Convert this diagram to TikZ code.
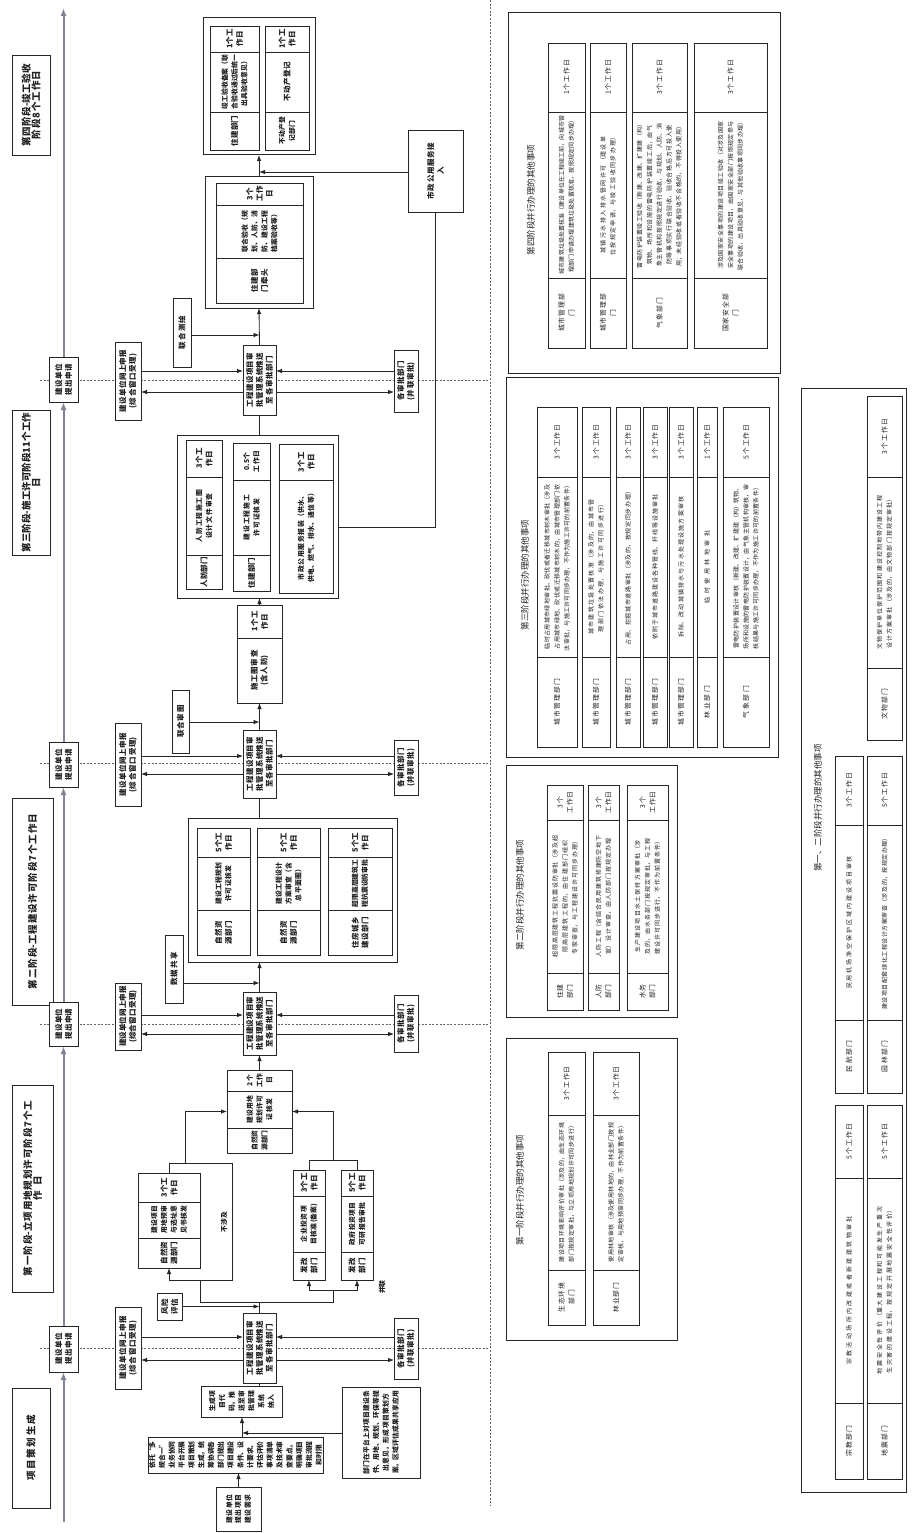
\documentclass[tikz,border=0pt]{standalone}
\usepackage{fontspec}
\setmainfont{Noto Sans CJK SC}
\XeTeXlinebreaklocale "zh"
\XeTeXlinebreakskip=0pt plus 1pt
\usetikzlibrary{arrows.meta}
\definecolor{axc}{RGB}{128,134,150}
\newcommand{\fa}{\fontsize{7.5}{9.8}\selectfont\bfseries}
\newcommand{\fcs}{\fontsize{6.8}{8.8}\selectfont\bfseries}
\newcommand{\fcc}{\fontsize{6}{7.5}\selectfont\mdseries}
\newcommand{\fdd}{\fontsize{6.8}{8.6}\selectfont\mdseries}
\newcommand{\flab}{\fontsize{9.5}{12.5}\selectfont\bfseries}
\newcommand{\ftit}{\fontsize{8.5}{10}\selectfont\mdseries}
\tikzset{
 bx/.style={draw=black!85,line width=0.8pt,fill=white,inner sep=0pt,outer sep=0pt},
 frame/.style={line width=1pt},
 tx/.style={rotate=90,inner sep=0pt,align=center,font=\fa,text=black!88},
 ln/.style={draw=black!85,line width=0.85pt},
 arr/.style={ln,-{Latex[length=6pt,width=4.5pt]}},
 bnd/.style={draw=black!60,line width=0.8pt,dash pattern=on 2pt off 1.6pt},
 axis/.style={draw=axc,line width=2pt,-{Latex[length=8pt,width=6pt]}},
}
\newcommand{\BX}[7][]{%
 \pgfmathsetmacro\bxw{#5-#3}%
 \pgfmathsetmacro\bxh{#6-#4}%
 \pgfmathsetmacro\bxx{(#3+#5)/2}%
 \pgfmathsetmacro\bxy{(#4+#6)/2}%
 \pgfmathsetmacro\bxt{max(#6-#4-4,4)}%
 \node[bx,minimum width=\bxw pt,minimum height=\bxh pt,#1] (#2) at (\bxx,\bxy) {};%
 \node[tx,text width=\bxt pt] (#2-t) at (#2.center) {#7};%
}
\begin{document}
\begin{tikzpicture}[x=1pt,y=-1pt]
\useasboundingbox (0,0) rectangle (916,1533);
\fill[white] (0,0) rectangle (916,1533);
% separators and phase boundaries
\draw[bnd] (490,0) -- (490,1505);
\foreach \yy in {1348,1024,763,380}{\draw[bnd] (40,\yy) -- (490,\yy);}

% ---------- stage labels ----------
\BX{S0}{12}{1388}{50}{1508}{\flab 项目策划生成}
\BX{S1}{12}{1085}{53}{1292}{\flab 第一阶段-立项用地规划许可阶段7个工\\作日}
\BX{S2}{12}{798}{53}{1005}{\flab 第二阶段-工程建设许可阶段7个工作日}
\BX{S3}{12}{410}{50}{555}{\flab 第三阶段-施工许可阶段11个工作\\日}
\BX{S4}{12}{55}{50}{155}{\flab 第四阶段-竣工验收\\阶段8个工作日}

% ---------- main axis ----------
\BX{A1}{49}{1326}{78}{1372}{建设单位\\提出申请}
\BX{A2}{49}{1002}{78}{1046}{建设单位\\提出申请}
\BX{A3}{49}{742}{78}{787}{建设单位\\提出申请}
\BX{A4}{49}{357}{78}{402}{建设单位\\提出申请}
\coordinate (ax0) at (63.5,1522);
\coordinate (ax1) at (63.5,8);
\draw[axis] (ax0) -- (A1.south);
\draw[axis] (A1.north) -- (A2.south);
\draw[axis] (A2.north) -- (A3.south);
\draw[axis] (A3.north) -- (A4.south);
\draw[axis] (A4.north) -- (ax1);

% ---------- window / system / department boxes ----------
\BX{L1}{115}{1307}{141}{1389}{建设单位网上申报\\(综合窗口受理)}
\BX{C1}{243}{1313}{276}{1383}{工程建设项目审\\批管理系统推送\\至各审批部门}
\BX{R1}{394}{1318}{418}{1379}{各审批部门\\(并联审批)}
\BX{L2}{115}{983}{141}{1050}{建设单位网上申报\\(综合窗口受理)}
\BX{C2}{243}{992}{276}{1055}{工程建设项目审\\批管理系统推送\\至各审批部门}
\BX{R2}{394}{995}{418}{1052}{各审批部门\\(并联审批)}
\BX{L3}{115}{723}{141}{806}{建设单位网上申报\\(综合窗口受理)}
\BX{C3}{243}{730}{276}{798}{工程建设项目审\\批管理系统推送\\至各审批部门}
\BX{R3}{394}{740}{418}{795}{各审批部门\\(并联审批)}
\BX{L4}{115}{342}{141}{420}{建设单位网上申报\\(综合窗口受理)}
\BX{C4}{243}{345}{276}{415}{工程建设项目审\\批管理系统推送\\至各审批部门}
\BX{R4}{394}{350}{418}{412}{各审批部门\\(并联审批)}
\foreach \n/\ya/\yb in {1/1337/1360,2/1015/1034,3/756/774,4/371/392}{
  \draw[arr] (L\n.east|-0,\ya) -- (C\n.west|-0,\ya);
  \draw[arr] (C\n.west|-0,\yb) -- (L\n.east|-0,\yb);
  \draw[arr] (R\n.west|-0,\ya) -- (C\n.east|-0,\ya);
  \draw[arr] (C\n.east|-0,\yb) -- (R\n.west|-0,\yb);
}

% ---------- project planning ----------
\BX{Q}{216}{1487}{261}{1531}{\fcs 建设单位\\提出项目\\建设需求}
\BX{W}{148}{1437}{323}{1473}{\fcs 依托“多规合一”业务协同平台开展项目策划生成，统筹协调各部门提出项目建设条件、设计要求、评估评价事项清单及技术审查要点，明确项目审批流程和时限}
\BX{P1}{201}{1386}{282}{1417}{\fcs 生成项目代码，推送至审批管理系统纳入}
\BX{Z}{342}{1387}{420}{1478}{\fcs 部门在平台上对项目建设条件、用地、规划、环保等提出意见，形成项目策划方案，区域评估成果共享应用}
\draw[arr] (Q.north) -- (Q.north|-W.south);
\draw[arr] (W.north-|242,0) -- (P1.south-|242,0);
\draw[arr] (Z.west|-0,1433) -- (242,1433);
\draw[ln] (C1.south|-P1.north) -- (C1.south);

% ---------- stage 1 ----------
\BX{F1}{157}{1293}{182}{1320}{风险\\评估}
\draw[arr] (F1.east) -- (F1.east-|C1.north);
\BX[frame]{G1L}{138}{1173}{200}{1268}{}
\BX{G1La}{138}{1173}{200}{1202}{3个工作日}
\BX{G1Lb}{138}{1202}{200}{1238}{\fcs 建设项目用地预审与选址意见书核发}
\BX{G1Lc}{138}{1238}{200}{1268}{自然资源部门}
\BX{G1Ra}{293}{1170}{325}{1196}{3个工作日}
\BX{G1Rb}{293}{1196}{325}{1252}{\fcs 企业投资项目核准(备案)}
\BX{G1Rc}{293}{1252}{325}{1280}{发改部门}
\BX{G1Rd}{341}{1170}{373}{1196}{5个工作日}
\BX{G1Re}{341}{1196}{373}{1252}{\fcs 政府投资项目可研报告审批}
\BX{G1Rf}{341}{1252}{373}{1280}{发改部门}
\BX[frame]{M1}{227}{1070}{292}{1153}{}
\BX{M1a}{227}{1070}{292}{1091}{\fcs 2个工作日}
\BX{M1b}{227}{1091}{292}{1128}{\fcs 建设用地规划许可证核发}
\BX{M1c}{227}{1128}{292}{1153}{\fcs 自然资源部门}
\coordinate (b1) at (259.5,1302);
\draw[ln] (C1.north) -- (b1);
\draw[ln] (b1) -| (200,1280);
\draw[ln] (b1) -| (333,1290);
\draw[arr] (333,1290) -| (G1Rc.south);
\draw[arr] (333,1290) -| (G1Rf.south);
\draw[ln] (G1L.south|-0,1280) -- (232,1280) -- (232,1163) -- (G1L.north|-0,1163) -- (G1L.north);
\draw[arr] (G1L.south|-0,1280) -- (G1L.south);
\node[tx,font=\fcs] (byp) at (224,1222) {不涉及};
\node[tx,font=\fcs] (bing) at (382,1287) {并联};
\draw[arr] (185,1163) |- (M1.west);
\draw[ln] (G1Ra.north) |- (G1Rd.north|-0,1160) -- (G1Rd.north);
\draw[arr] (333,1160) |- (M1.east);
\draw[arr] (M1.north) -- (C2.south);

% ---------- stage 2 ----------
\BX{D2}{165}{935}{183}{1003}{数据共享}
\draw[arr] (D2.east|-0,983) -- (C2.north|-0,983);
\BX[frame]{B2}{188}{818}{397}{962}{}
\BX{B2a}{197}{828}{250}{857}{5个工作日}
\BX{B2b}{197}{857}{250}{910}{\fcs 建设工程规划许可证核发}
\BX{B2c}{197}{910}{250}{955}{自然资源部门}
\BX{B2d}{257}{828}{320}{857}{5个工作日}
\BX{B2e}{257}{857}{320}{910}{\fcs 建设工程设计方案审查（含总平面图）}
\BX{B2f}{257}{910}{320}{955}{自然资源部门}
\BX{B2g}{328}{828}{392}{857}{5个工作日}
\BX{B2h}{328}{857}{392}{910}{\fcs 超限高层建筑工程抗震设防审批}
\BX{B2i}{328}{910}{392}{955}{住房城乡建设部门}
\draw[arr] (C2.north) -- (C2.north|-B2.south);
\draw[ln] (C3.south|-B2.north) -- (C3.south);

% ---------- stage 3 ----------
\BX{E3}{172}{690}{189}{753}{联合审图}
\draw[arr] (E3.east|-0,722) -- (C3.north|-0,722);
\BX[frame]{H3}{237}{605}{282}{703}{}
\BX{H3a}{237}{605}{282}{638}{1个工作日}
\BX{H3b}{237}{638}{282}{703}{施工图审查\\(含人防)}
\draw[arr] (C3.north) -- (H3.south);
\BX[frame]{B3}{177}{435}{338}{598}{}
\BX{B3a}{186}{440}{222}{477}{3个工作日}
\BX{B3b}{186}{477}{222}{555}{\fcs 人防工程施工图设计文件审查}
\BX{B3c}{186}{555}{222}{589}{人防部门}
\BX{B3d}{233}{443}{270}{480}{\fcs 0.5个工作日}
\BX{B3e}{233}{480}{270}{555}{\fcs 建设工程施工许可证核发}
\BX{B3f}{233}{555}{270}{591}{住建部门}
\BX{B3g}{279}{444}{333}{480}{3个工作日}
\BX{B3h}{279}{480}{333}{593}{\fcs 市政公用服务报装（供水、供电、燃气、排水、通信等）}
\draw[arr] (H3.north) -- (H3.north|-B3.south);
\draw[ln] (C4.south|-B3.north) -- (C4.south);

% ---------- stage 4 ----------
\BX{J4}{173}{298}{191}{367}{联合测绘}
\draw[arr] (J4.east|-0,335) -- (C4.north|-0,335);
\BX[frame]{K4}{205}{177}{313}{308}{}
\BX{K4a}{216}{183}{303}{205}{3个工作日}
\BX{K4b}{216}{205}{303}{258}{\fcs 联合验收（规划、人防、消防、建设工程档案验收等）}
\BX{K4c}{216}{258}{303}{303}{住建部门牵头}
\draw[arr] (C4.north) -- (K4.south);
\BX[frame]{U4}{203}{18}{315}{155}{}
\BX{U4a}{210}{26}{259}{52}{1个工作日}
\BX{U4b}{210}{52}{259}{112}{\fcs 竣工验收备案（联合验收通过后统一出具验收意见）}
\BX{U4c}{210}{112}{259}{150}{住建部门}
\BX{U4d}{265}{26}{309}{52}{1个工作日}
\BX{U4e}{265}{52}{309}{112}{不动产登记}
\BX{U4f}{265}{112}{309}{150}{\fcs 不动产登记部门}
\draw[arr] (K4.north) -- (U4.south);
\BX{V4}{408}{130}{463}{212}{市政公用服务接\\入}
\draw[arr] (V4.west|-0,172) -- (K4.north|-0,172);
\draw[ln] (B3.east|-0,527) -| (V4.south);

% ---------- table T1 ----------
\BX[frame]{T1}{508}{13}{780}{373}{}
\node[tx,font=\ftit] (T1t) at (531,200) {第四阶段并行办理的其他事项};
\BX{T1a}{548}{43}{585}{112}{\fdd 1个工作日}
\BX{T1b}{548}{112}{585}{278}{\fcc 城市建筑垃圾处置核准（建设单位在工程竣工前，向城市管理部门申请办理建筑垃圾处置核准，按照规定同步办理）}
\BX{T1c}{548}{278}{585}{348}{\fdd 城市管理部\\门}
\BX{T1d}{590}{43}{626}{112}{\fdd 1个工作日}
\BX{T1e}{590}{112}{626}{278}{\fcc 城镇污水排入排水管网许可（建设单位按规定申请，与竣工验收同步办理）}
\BX{T1f}{590}{278}{626}{348}{\fdd 城市管理部\\门}
\BX{T1g}{632}{43}{687}{112}{\fdd 3个工作日}
\BX{T1h}{632}{112}{687}{278}{\fcc 雷电防护装置竣工验收（新建、改建、扩建建（构）筑物、场所和设施的雷电防护装置竣工后，由气象主管机构按照规定进行验收，与规划、人防、消防等事项实行联合验收，验收合格后方可投入使用；未经验收或者验收不合格的，不得投入使用）}
\BX{T1i}{632}{278}{687}{348}{\fdd 气象部门}
\BX{T1j}{694}{43}{767}{112}{\fdd 3个工作日}
\BX{T1k}{694}{112}{767}{278}{\fcc 涉及国家安全事项的建设项目竣工验收（对涉及国家安全事项的建设项目，由国家安全部门按照规定参与联合验收，出具验收意见，与其他验收事项同步办理）}
\BX{T1l}{694}{278}{767}{348}{\fdd 国家安全部\\门}

% ---------- table T2 ----------
\BX[frame]{T2}{506}{377}{778}{757}{}
\node[tx,font=\ftit] (T2t) at (525,575) {第三阶段并行办理的其他事项};
\BX{T2a}{537}{407}{577}{477}{\fdd 3个工作日}
\BX{T2b}{537}{477}{577}{657}{\fcc 临时占用城市绿地审批、砍伐或者迁移城市树木审批（涉及占用城市绿地、砍伐或迁移城市树木的，由城市管理部门依法审批，与施工许可同步办理，不作为施工许可的前置条件）}
\BX{T2c}{537}{657}{577}{747}{\fdd 城市管理部门}
\BX{T2d}{582}{407}{610}{477}{\fdd 3个工作日}
\BX{T2e}{582}{477}{610}{657}{\fcc 城市建筑垃圾处置核准（涉及的，由城市管理部门依法办理，与施工许可同步进行）}
\BX{T2f}{582}{657}{610}{747}{\fdd 城市管理部门}
\BX{T2g}{616}{407}{640}{477}{\fdd 3个工作日}
\BX{T2h}{616}{477}{640}{657}{\fcc 占用、挖掘城市道路审批（涉及的，按规定同步办理）}
\BX{T2i}{616}{657}{640}{747}{\fdd 城市管理部门}
\BX{T2j}{643}{407}{667}{477}{\fdd 3个工作日}
\BX{T2k}{643}{477}{667}{657}{\fcc 依附于城市道路建设各种管线、杆线等设施审批}
\BX{T2l}{643}{657}{667}{747}{\fdd 城市管理部门}
\BX{T2m}{669}{407}{693}{477}{\fdd 3个工作日}
\BX{T2n}{669}{477}{693}{657}{\fcc 拆除、改动城镇排水与污水处理设施方案审核}
\BX{T2o}{669}{657}{693}{747}{\fdd 城市管理部门}
\BX{T2p}{697}{407}{717}{477}{\fdd 1个工作日}
\BX{T2q}{697}{477}{717}{657}{\fcc 临时使用林地审批}
\BX{T2r}{697}{657}{717}{747}{\fdd 林业部门}
\BX{T2s}{723}{407}{769}{477}{\fdd 5个工作日}
\BX{T2u}{723}{477}{769}{657}{\fcc 雷电防护装置设计审核（新建、改建、扩建建（构）筑物、场所和设施的雷电防护装置设计，由气象主管机构审核，审核结果与施工许可同步办理，不作为施工许可的前置条件）}
\BX{T2v}{723}{657}{769}{747}{\fdd 气象部门}

% ---------- table T3 ----------
\BX[frame]{T3}{506}{765}{677}{1017}{}
\node[tx,font=\ftit] (T3t) at (520,895) {第二阶段并行办理的其他事项};
\BX{T3a}{547}{785}{583}{820}{\fdd 3个\\工作日}
\BX{T3b}{547}{820}{583}{973}{\fcc 超限高层建筑工程抗震设防审批（涉及超限高层建筑工程的，由住建部门组织专家审查，与工程建设许可同步办理）}
\BX{T3c}{547}{973}{583}{1010}{\fdd 住建\\部门}
\BX{T3d}{588}{785}{619}{820}{\fdd 3个\\工作日}
\BX{T3e}{588}{820}{619}{973}{\fcc 人防工程（含结合民用建筑修建防空地下室）设计审查，由人防部门按规定办理}
\BX{T3f}{588}{973}{619}{1010}{\fdd 人防\\部门}
\BX{T3g}{627}{785}{668}{820}{\fdd 3个\\工作日}
\BX{T3h}{627}{820}{668}{973}{\fcc 生产建设项目水土保持方案审批（涉及的，由水务部门按规定审批，与工程建设许可同步进行，不作为前置条件）}
\BX{T3i}{627}{973}{668}{1010}{\fdd 水务\\部门}

% ---------- table T4 ----------
\BX[frame]{T4}{506}{1038}{677}{1340}{}
\node[tx,font=\ftit] (T4t) at (520,1190) {第一阶段并行办理的其他事项};
\BX{T4a}{548}{1052}{585}{1115}{\fdd 3个工作日}
\BX{T4b}{548}{1115}{585}{1270}{\fcc 建设项目环境影响评价审批（涉及的，由生态环境部门按规定审批，与立项用地规划许可同步进行）}
\BX{T4c}{548}{1270}{585}{1325}{\fdd 生态环境\\部门}
\BX{T4d}{593}{1052}{639}{1115}{\fdd 3个工作日}
\BX{T4e}{593}{1115}{639}{1270}{\fcc 使用林地审核（涉及使用林地的，由林业部门按规定审核，与用地预审同步办理，不作为前置条件）}
\BX{T4f}{593}{1270}{639}{1325}{\fdd 林业部门}

% ---------- table T5 ----------
\BX[frame]{T5}{801}{388}{906}{1492}{}
\node[tx,font=\ftit] (T5t) at (818,808) {第一、二阶段并行办理的其他事项};
\BX{T5a}{867}{396}{902}{477}{\fdd 3个工作日}
\BX{T5b}{867}{477}{902}{668}{\fcc 文物保护单位保护范围和建设控制地带内建设工程设计方案审批（涉及的，由文物部门按规定审批）}
\BX{T5c}{867}{668}{902}{740}{\fdd 文物部门}
\BX{T5d}{835}{756}{863}{825}{\fdd 3个工作日}
\BX{T5e}{835}{825}{863}{1020}{\fcc 民用机场净空保护区域内建设项目审核}
\BX{T5f}{835}{1020}{863}{1093}{\fdd 民航部门}
\BX{T5g}{867}{756}{902}{825}{\fdd 5个工作日}
\BX{T5h}{867}{825}{902}{1020}{\fcc 建设项目配套绿化工程设计方案审查（涉及的，按规定办理）}
\BX{T5i}{867}{1020}{902}{1093}{\fdd 园林部门}
\BX{T5j}{835}{1105}{863}{1178}{\fdd 5个工作日}
\BX{T5k}{835}{1178}{863}{1403}{\fcc 宗教活动场所内改建或者新建建筑物审批}
\BX{T5l}{835}{1403}{863}{1479}{\fdd 宗教部门}
\BX{T5m}{867}{1105}{902}{1178}{\fdd 5个工作日}
\BX{T5n}{867}{1178}{902}{1403}{\fcc 地震安全性评价（重大建设工程和可能发生严重次生灾害的建设工程，按规定开展地震安全性评价）}
\BX{T5o}{867}{1403}{902}{1479}{\fdd 地震部门}
\end{tikzpicture}
\end{document}
